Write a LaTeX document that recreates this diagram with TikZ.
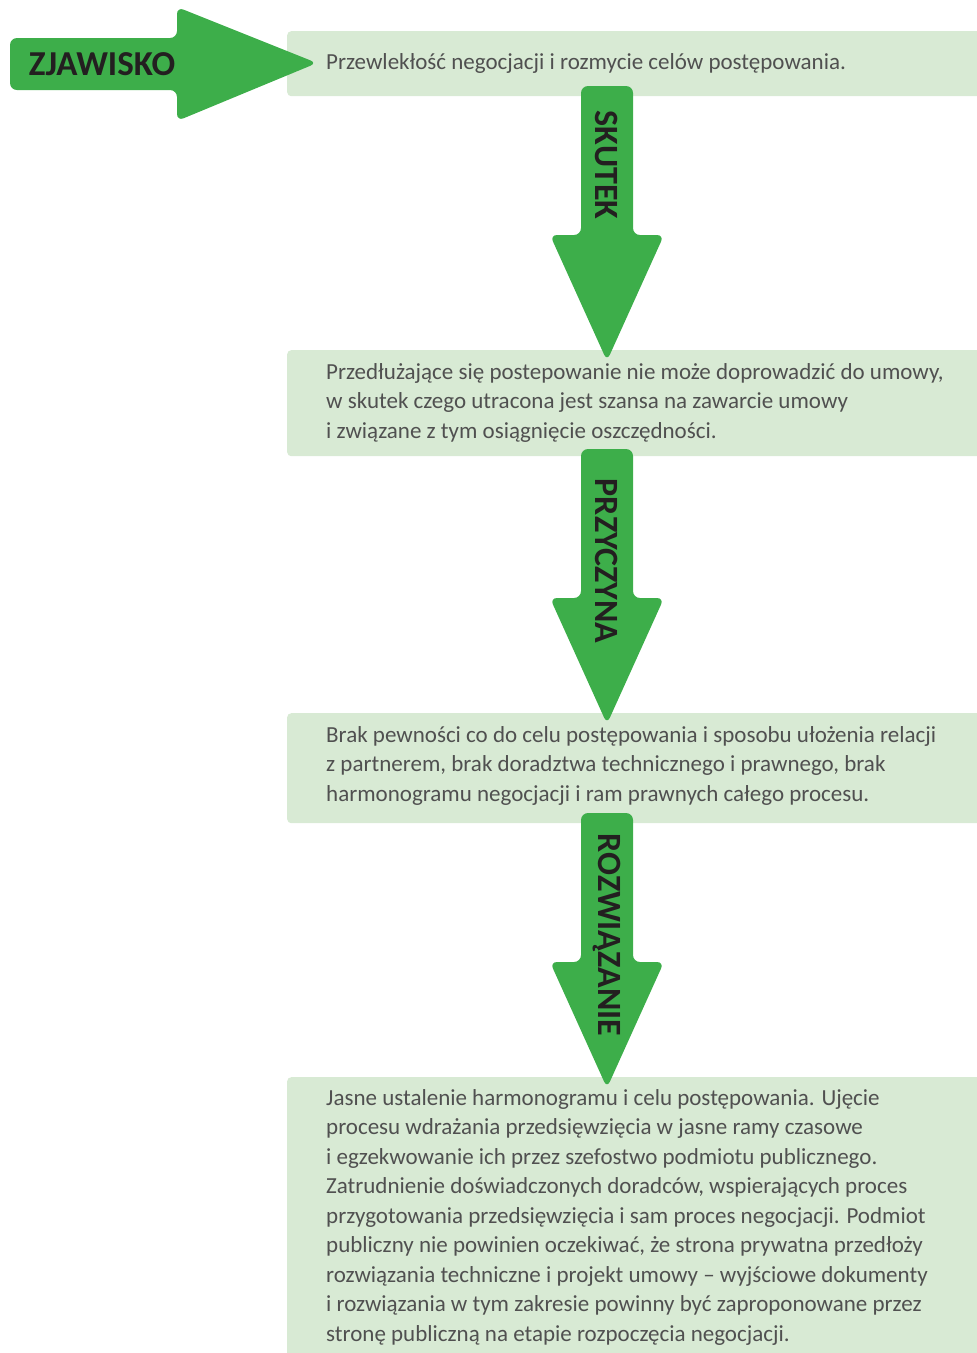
\documentclass[tikz,border=0pt]{standalone}
\usepackage{fontspec}
\setmainfont{Carlito}
\definecolor{boxgreen}{HTML}{D8EAD4}
\definecolor{arrowgreen}{HTML}{3DAE4A}
\definecolor{txtgray}{HTML}{505050}
\definecolor{lblblack}{HTML}{231F20}
\begin{document}
\begin{tikzpicture}[x=1pt,y=-1pt,
  box/.style={fill=boxgreen, rounded corners=4pt, draw=none, inner sep=0pt, anchor=north west},
  arrowshape/.style={fill=arrowgreen, rounded corners=7pt},
  bodytext/.style={anchor=north west, align=left, inner sep=0pt, text=txtgray,
    font=\fontsize{23}{29.5}\selectfont},
  vlabel/.style={rotate=-90, inner sep=0pt, text=lblblack, font=\fontsize{34}{34}\selectfont\bfseries},
  hlabel/.style={inner sep=0pt, text=lblblack, font=\fontsize{35}{35}\selectfont\bfseries}]
\useasboundingbox (0,0) rectangle (977,1353);
% boxes
\node[box, minimum width=700, minimum height=65] (b1) at (287,31) {};
\node[box, minimum width=700, minimum height=106] (b2) at (287,350) {};
\node[box, minimum width=700, minimum height=110] (b3) at (287,713) {};
\node[box, minimum width=700, minimum height=290] (b4) at (287,1077) {};
% arrows
\fill[arrowshape] (10,38) -- (177,38) -- (177,7) -- (317,63) -- (177,121) -- (177,90) -- (10,90) -- cycle;
\fill[arrowshape] (581,86) -- (633,86) -- (633,235) -- (664,235) -- (607,361) -- (550,235) -- (581,235) -- cycle;
\fill[arrowshape] (581,449) -- (633,449) -- (633,598) -- (664,598) -- (607,724) -- (550,598) -- (581,598) -- cycle;
\fill[arrowshape] (581,813) -- (633,813) -- (633,962) -- (664,962) -- (607,1088) -- (550,962) -- (581,962) -- cycle;
% labels
\node[hlabel] (lz) at (102,64) {ZJAWISKO};
\node[vlabel] (ls) at (607,165) {SKUTEK};
\node[vlabel] (lp) at (607,561) {PRZYCZYNA};
\node[vlabel] (lr) at (607,935) {ROZWIĄZANIE};
% texts
\node[bodytext] (t1) at (326,53) {Przewlekłość negocjacji i rozmycie celów postępowania.};
\node[bodytext] (t2) at (326,363) {Przedłużające się postepowanie nie może doprowadzić do umowy,\\
w skutek czego utracona jest szansa na zawarcie umowy\\
i związane z tym osiągnięcie oszczędności.};
\node[bodytext] (t3) at (326,726) {Brak pewności co do celu postępowania i sposobu ułożenia relacji\\
z partnerem, brak doradztwa technicznego i prawnego, brak\\
harmonogramu negocjacji i ram prawnych całego procesu.};
\node[bodytext] (t4) at (326,1089) {Jasne ustalenie harmonogramu i celu postępowania. Ujęcie\\
procesu wdrażania przedsięwzięcia w jasne ramy czasowe\\
i egzekwowanie ich przez szefostwo podmiotu publicznego.\\
Zatrudnienie doświadczonych doradców, wspierających proces\\
przygotowania przedsięwzięcia i sam proces negocjacji. Podmiot\\
publiczny nie powinien oczekiwać, że strona prywatna przedłoży\\
rozwiązania techniczne i projekt umowy -- wyjściowe dokumenty\\
i rozwiązania w tym zakresie powinny być zaproponowane przez\\
stronę publiczną na etapie rozpoczęcia negocjacji.};
\end{tikzpicture}
\end{document}
